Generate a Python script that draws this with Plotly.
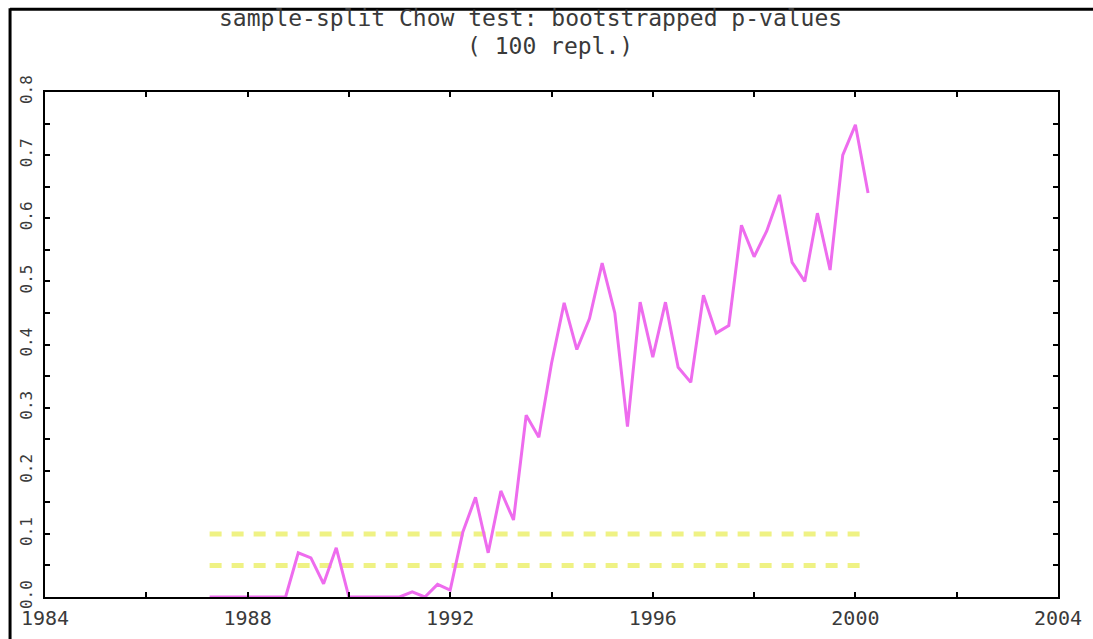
import plotly.graph_objects as go

# quarterly observation dates (decimal years)
dates = [
    1987.25, 1987.50, 1987.75, 1988.00, 1988.25, 1988.50, 1988.75, 1989.00,
    1989.25, 1989.50, 1989.75, 1990.00, 1990.25, 1990.50, 1990.75, 1991.00,
    1991.25, 1991.50, 1991.75, 1992.00, 1992.25, 1992.50, 1992.75, 1993.00,
    1993.25, 1993.50, 1993.75, 1994.00, 1994.25, 1994.50, 1994.75, 1995.00,
    1995.25, 1995.50, 1995.75, 1996.00, 1996.25, 1996.50, 1996.75, 1997.00,
    1997.25, 1997.50, 1997.75, 1998.00, 1998.25, 1998.50, 1998.75, 1999.00,
    1999.25, 1999.50, 1999.75, 2000.00, 2000.25,
]

# bootstrapped p-values
pvalues = [
    0.000, 0.000, 0.000, 0.000, 0.000, 0.000, 0.000, 0.070,
    0.062, 0.021, 0.078, 0.000, 0.000, 0.000, 0.000, 0.000,
    0.008, 0.000, 0.020, 0.011, 0.103, 0.158, 0.070, 0.168,
    0.122, 0.288, 0.253, 0.370, 0.466, 0.392, 0.441, 0.529,
    0.450, 0.270, 0.467, 0.380, 0.467, 0.364, 0.340, 0.478,
    0.418, 0.430, 0.589, 0.539, 0.580, 0.637, 0.530, 0.500,
    0.608, 0.518, 0.700, 0.748, 0.640,
]

# significance levels
crit_levels = [0.10, 0.05]

# axis ticks
x_tickvals = [1984, 1986, 1988, 1990, 1992, 1994, 1996, 1998, 2000, 2002, 2004]
x_ticktext = ["1984", "", "1988", "", "1992", "", "1996", "", "2000", "", "2004"]
y_tickvals = [0.0, 0.05, 0.1, 0.15, 0.2, 0.25, 0.3, 0.35, 0.4, 0.45,
              0.5, 0.55, 0.6, 0.65, 0.7, 0.75, 0.8]
y_ticktext = ["0.0", "", "0.1", "", "0.2", "", "0.3", "", "0.4", "",
              "0.5", "", "0.6", "", "0.7", "", "0.8"]

title_line1 = "sample-split Chow test: bootstrapped p-values"
title_line2 = "( 100 repl.)"

FONT = "DejaVu Sans Mono"
TXT = "#3a3a3a"

fig = go.Figure()

for lvl in crit_levels:
    fig.add_trace(go.Scatter(
        x=[dates[0], dates[-1]], y=[lvl, lvl],
        mode="lines",
        line=dict(color="rgba(236,240,110,0.85)", width=5, dash="12px,10px"),
        hoverinfo="skip", showlegend=False,
    ))

fig.add_trace(go.Scatter(
    x=dates, y=pvalues, mode="lines",
    line=dict(color="#EE6CEE", width=3),
    showlegend=False,
))

fig.update_layout(
    width=1093, height=639,
    margin=dict(l=45, r=35, t=92, b=42, autoexpand=False),
    paper_bgcolor="white", plot_bgcolor="white",
    font=dict(family=FONT, color=TXT),
    showlegend=False,
)

fig.update_xaxes(
    range=[1984, 2004],
    tickvals=x_tickvals, ticktext=x_ticktext,
    ticks="inside", ticklen=5, tickwidth=1.5, tickcolor="black",
    showline=True, linecolor="black", linewidth=2, mirror="ticks",
    showgrid=False, zeroline=False, automargin=False,
    tickfont=dict(family=FONT, size=20, color=TXT),
    ticklabelstandoff=2,
)
fig.update_yaxes(
    range=[0, 0.8],
    tickvals=y_tickvals, ticktext=y_ticktext,
    ticks="inside", ticklen=5, tickwidth=1.5, tickcolor="black",
    showline=True, linecolor="black", linewidth=2, mirror="ticks",
    showgrid=False, zeroline=False, automargin=False,
    tickangle=-90,
    tickfont=dict(family=FONT, size=16, color=TXT),
    ticklabelstandoff=5,
)

# titles
fig.add_annotation(text=title_line1, xref="paper", yref="paper",
                   x=0.479, y=1.1465, xanchor="center", yanchor="middle",
                   showarrow=False, font=dict(family=FONT, size=23, color=TXT))
fig.add_annotation(text=title_line2, xref="paper", yref="paper",
                   x=0.4985, y=1.091, xanchor="center", yanchor="middle",
                   showarrow=False, font=dict(family=FONT, size=23, color=TXT))

# outer frame (left and top edges)
fig.add_shape(type="line", xref="paper", yref="paper",
              x0=-0.0345, x1=-0.0345, y0=-0.1, y1=1.166,
              line=dict(color="black", width=3))
fig.add_shape(type="line", xref="paper", yref="paper",
              x0=-0.0345, x1=1.04, y0=1.164, y1=1.164,
              line=dict(color="black", width=3))

# remove the default page margin so the 1093x639 figure fills the window
fig.write_html("out.html", config={"displayModeBar": False},
               post_script="document.body.style.margin='0';")
